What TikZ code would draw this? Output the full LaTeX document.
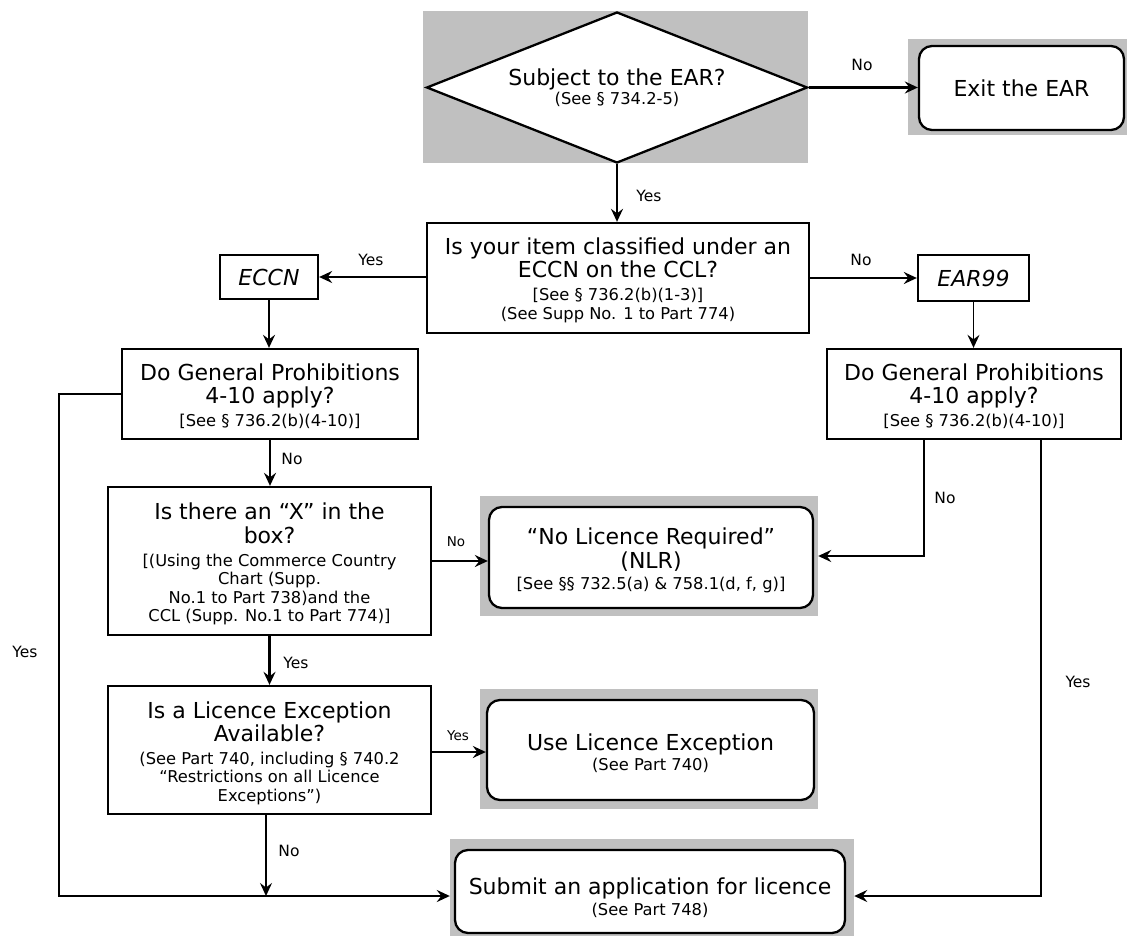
\documentclass[tikz,border=0pt]{standalone}
\usepackage{fontspec}
\setmainfont{DejaVu Sans}
\usetikzlibrary{shapes.geometric,arrows.meta}
\renewcommand\arraystretch{0}
\definecolor{shade}{RGB}{192,192,192}
\newcommand\bigf{\fontsize{22pt}{23.5pt}\selectfont}
\newcommand\smf{\fontsize{16.3pt}{18.5pt}\selectfont}
\newcommand\lblf{\fontsize{15.5pt}{18pt}\selectfont}
\newcommand\tinyl{\fontsize{13.5pt}{16pt}\selectfont}
\newcommand\RB{\vrule width0pt height17pt depth6.5pt\relax}
\newcommand\RS{\vrule width0pt height13pt depth5.5pt\relax}
\newcommand\RSx[1]{\vrule width0pt height#1 depth5.5pt\relax}
\newcommand\Tx[2]{\raisebox{-#1}[\height][\depth]{\begin{tabular}{@{}c@{}}#2\end{tabular}}}
\tikzset{
 box/.style={draw, line width=2.3pt, rectangle, inner sep=0pt, fill=white},
 rbox/.style={box, rounded corners=13pt},
 shadebox/.style={rectangle, fill=shade, inner sep=0pt, draw=none},
 arr/.style={line width=2.2pt, -{Stealth[length=13pt,width=12pt,inset=4.5pt]}},
 thinarr/.style={arr, line width=1.6pt},
 lbl/.style={inner sep=0pt, font=\lblf},
 slbl/.style={inner sep=0pt, font=\tinyl},
}
\begin{document}
\begin{tikzpicture}[x=1pt,y=-1pt]
\useasboundingbox (0,0) rectangle (1127,936);
% shaded backgrounds
\node[shadebox, minimum width=385pt, minimum height=152pt] (grayTop) at (615.5,87) {};
\node[shadebox, minimum width=219pt, minimum height=96pt] (grayExit) at (1017.5,87) {};
\node[shadebox, minimum width=338pt, minimum height=120pt] (nlrG) at (649,556) {};
\node[shadebox, minimum width=338pt, minimum height=120pt] (useG) at (649,749) {};
\node[shadebox, minimum width=404pt, minimum height=98pt] (subG) at (652,888) {};
% nodes
\node[draw, line width=2.3pt, diamond, aspect=2.54, inner sep=0pt, fill=white,
      minimum width=381pt, minimum height=151pt] (dia) at (617,87.5)
  {\Tx{1.5pt}{\bigf\RB Subject to the EAR?\\ \smf\RSx{11.5pt}(See § 734.2-5)}};
\node[rbox, minimum width=205pt, minimum height=84pt] (exit) at (1021.5,88)
  {\Tx{3.5pt}{\bigf\RB Exit the EAR}};
\node[box, minimum width=382pt, minimum height=110pt] (item) at (618,278)
  {\Tx{3pt}{\bigf\RB Is your item classified under an\\
   \bigf\RB ECCN on the CCL?\\
   \smf\RSx{16.5pt}[See § 736.2(b)(1-3)]\\
   \smf\RS (See Supp No. 1 to Part 774)}};
\node[box, minimum width=98pt, minimum height=44pt] (eccn) at (269,277)
  {\Tx{3.5pt}{\bigf\RB\itshape ECCN}};
\node[box, minimum width=111pt, minimum height=46pt] (ear99) at (973.5,278)
  {\Tx{3.5pt}{\bigf\RB\itshape EAR99}};
\node[box, minimum width=296pt, minimum height=90pt] (gpL) at (270,394)
  {\Tx{3.5pt}{\bigf\RB Do General Prohibitions\\
   \bigf\RB 4-10 apply?\\
   \smf\RSx{16pt}[See § 736.2(b)(4-10)]}};
\node[box, minimum width=294pt, minimum height=90pt] (gpR) at (974,394)
  {\Tx{3.5pt}{\bigf\RB Do General Prohibitions\\
   \bigf\RB 4-10 apply?\\
   \smf\RSx{16pt}[See § 736.2(b)(4-10)]}};
\node[box, minimum width=323pt, minimum height=148pt] (xbox) at (269.5,561)
  {\Tx{4pt}{\bigf\RB Is there an “X” in the\\
   \bigf\RB box?\\
   \smf\RSx{16.5pt}[(Using the Commerce Country\\
   \smf\RS Chart (Supp.\\
   \smf\RS No.1 to Part 738)and the\\
   \smf\RS CCL (Supp. No.1 to Part 774)]}};
\node[rbox, minimum width=324pt, minimum height=101pt] (nlr) at (651,557.5)
  {\Tx{3.5pt}{\bigf\RB “No Licence Required”\\
   \bigf\RB (NLR)\\
   \smf\RSx{14.5pt}[See §§ 732.5(a) \& 758.1(d, f, g)]}};
\node[box, minimum width=323pt, minimum height=128pt] (lex) at (269.5,750)
  {\Tx{4pt}{\bigf\RB Is a Licence Exception\\
   \bigf\RB Available?\\
   \smf\RSx{16pt}(See Part 740, including § 740.2\\
   \smf\RS “Restrictions on all Licence\\
   \smf\RS Exceptions”)}};
\node[rbox, minimum width=327pt, minimum height=100pt] (use) at (650.5,750)
  {\Tx{4.5pt}{\bigf\RB Use Licence Exception\\
   \smf\RSx{14pt}(See Part 740)}};
\node[rbox, minimum width=390pt, minimum height=83pt] (sub) at (650,891.5)
  {\Tx{7.5pt}{\bigf\RB Submit an application for licence\\
   \smf\RSx{14pt}(See Part 748)}};
% connectors
\coordinate (bot) at (59,896);
\draw[arr] (dia.east) -- (dia.east -| exit.west);
\draw[arr] (dia.south) -- (dia.south |- item.north);
\draw[arr] (item.west |- eccn.east) -- (eccn.east);
\draw[arr] (item.east |- ear99.west) -- (ear99.west);
\draw[arr] (eccn.south) -- (eccn.south |- gpL.north);
\draw[thinarr] (ear99.south) -- (ear99.south |- gpR.north);
\draw[arr] (gpL.south) -- (gpL.south |- xbox.north);
\draw[arr] (xbox.east) -- (xbox.east -| nlr.west);
\draw[arr] (xbox.south) -- (xbox.south |- lex.north);
\draw[arr] ([yshift=-2pt]lex.east) -- ([yshift=-2pt]lex.east -| use.west);
\draw[arr] (gpL.west) -| (bot) -- (bot -| subG.west);
\draw[thinarr] ([xshift=-3.5pt]lex.south) -- ([xshift=-3.5pt]lex.south |- bot);
\draw[arr] ([xshift=-50pt]gpR.south) |- (nlrG.east);
\draw[arr] ([xshift=67pt]gpR.south) |- (bot -| subG.east);
% labels
\node[lbl] (l1) at (862,65) {No};
\node[lbl] (l2) at (649,196) {Yes};
\node[lbl] (l3) at (371,260) {Yes};
\node[lbl] (l4) at (861,260) {No};
\node[lbl] (l5) at (292,459) {No};
\node[slbl] (l6) at (456,542) {No};
\node[lbl] (l7) at (945,498) {No};
\node[lbl] (l8) at (25,652) {Yes};
\node[lbl] (l9) at (1078,682) {Yes};
\node[lbl] (l10) at (296,663) {Yes};
\node[slbl] (l11) at (458,736) {Yes};
\node[lbl] (l12) at (289,851) {No};
\end{tikzpicture}
\end{document}
